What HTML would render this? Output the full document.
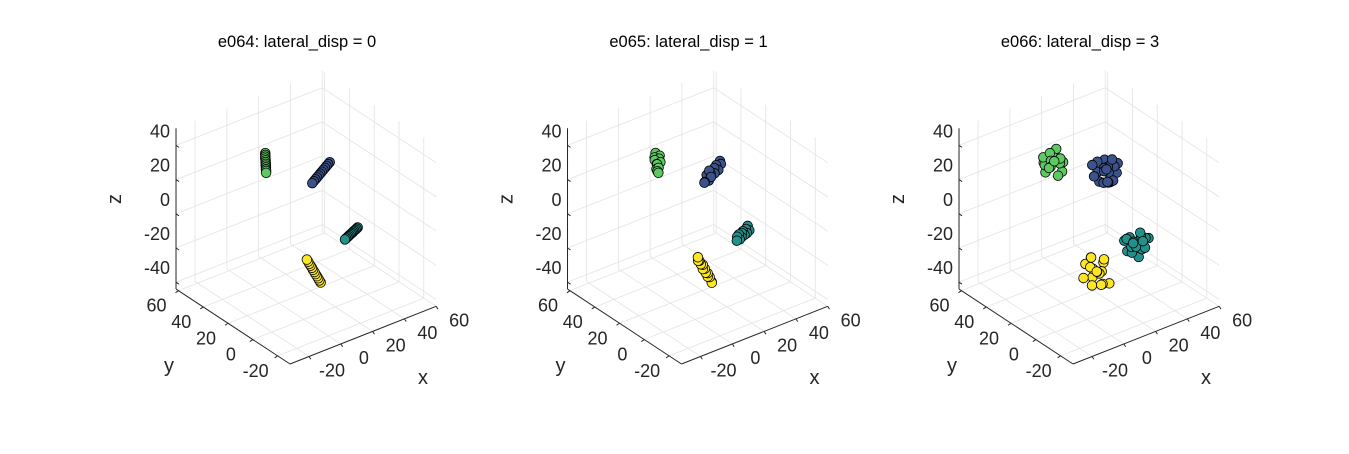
<!DOCTYPE html>
<html><head><meta charset="utf-8"><style>
body{margin:0;background:#fff;}
svg text{font-family:"Liberation Sans",Arial,sans-serif;}
</style></head><body>
<svg id="fig" width="1349" height="449" viewBox="0 0 1349 449" xmlns="http://www.w3.org/2000/svg">
<rect width="1349" height="449" fill="#fff"/>
</svg>
<script>
const titles = ["e064: lateral_disp = 0","e065: lateral_disp = 1","e066: lateral_disp = 3"];
const xTicks = [-20,0,20,40,60];
const yTicks = [-20,0,20,40,60];
const zTicks = [-40,-20,0,20,40];
const clusterColors = ["#3b528b","#5ec962","#21918c","#fde725"];
const p1Blue = [[32,20,26.75],[31,20,26],[30,20,25.25],[29,20,24.5],[28,20,23.75],[27,20,23],[26,20,22.25],[25,20,21.5],[24,20,20.75],[23,20,20],[22,20,19.25],[21,20,18.5]];
const p1Green = [[-7,22,45.4],[-7,22,44.3],[-7,22,43.3],[-7,22,42.2],[-6.8,22,41.1],[-6.8,22,40.1],[-6.7,22,39],[-6.7,22,38],[-6.6,22,36.9],[-6.6,22,35.8],[-6.5,22,34.8],[-6.5,22,33.7]];
const p1Teal = [[26.2,-10,5],[25.5,-10,4.6],[24.8,-10,4.2],[24,-10,3.9],[23.3,-10,3.5],[22.6,-10,3.1],[21.9,-10,2.8],[21.1,-10,2.4],[20.4,-10,2],[19.7,-10,1.6],[18.9,-10,1.3],[18.2,-10,0.9]];
const p1Yellow = [[6,-6,-21.7],[5.6,-5.5,-20.6],[5.3,-4.9,-19.5],[4.9,-4.4,-18.4],[4.5,-3.8,-17.3],[4.2,-3.3,-16.2],[3.8,-2.7,-15.1],[3.5,-2.2,-14],[3.1,-1.6,-12.9],[2.7,-1.1,-11.9],[2.4,-0.5,-10.8],[2,0,-9.7]];
const p2Blue = [[32,21,27],[31,19,26.5],[30,21.5,25],[29,18.5,24],[28,20.5,24.5],[27,19,22.5],[26,21,22],[25,19.5,21],[24,21.5,21.5],[23,18.5,20],[26,22,23],[24,18,22],[22,20.5,18.5],[21,19.5,19]];
const p2Green = [[-7,23,45],[-6,21,44],[-8,22.5,43],[-6,21.5,42],[-7.5,23,41],[-5.5,21,40],[-7,22,39],[-6,23,38],[-8,21,37],[-5.5,22.5,36],[-7,21.5,35],[-6,22,33.5]];
const p2Teal = [[26,-9,5.5],[25.5,-11,4],[24.5,-9.5,4.5],[24,-11,3],[23,-9,3.5],[22.5,-11,2.5],[22,-9.5,3],[21,-10.5,1.5],[20.5,-9,2.5],[19.5,-11,1],[19,-9.5,2],[18,-10.5,0.5]];
const p2Yellow = [[6.5,-5,-22],[5,-7,-21],[6,-4,-19.5],[4,-5,-18],[5.5,-3,-17.5],[3.5,-4,-16],[4.5,-2,-15],[2.5,-3,-14],[4,-1,-13],[2,-2,-11.5],[3,0.5,-11],[1.5,-0.5,-10],[2.5,1,-9]];
const p3Blue = [[32,16,28],[30,24,27],[29,13,25],[33,20,24],[27,26,26],[25,15,29],[31,22,20],[28,17,18],[24,22,23],[22,18,20],[26,12,22],[30,18,30],[23,25,26],[27,21,16],[29,23,23],[25,18,25],[21,21,22],[26,16,19],[28,20,24],[24,14,21]];
const p3Green = [[-9,18,44],[-1,25,42],[-6,27,37],[0,19,39],[-8,23,34],[-3,16,36],[-10,21,40],[-2,22,46],[-5,20,43],[-7,26,41],[1,23,36],[-4,18,33],[-6,22,45],[-3,25,38],[-8,19,39],[-1,20,41],[-5,24,35],[-4,21,40]];
const p3Teal = [[28,-14,0],[19,-6,-2],[26,-5,-6],[21,-15,-8],[30,-9,-3],[17,-11,-5],[24,-13,2],[23,-7,-10],[27,-10,-8],[20,-9,1],[25,-15,-4],[22,-4,-3],[29,-6,-1],[18,-13,-2],[24,-9,-6],[21,-11,-1],[26,-12,-2],[23,-8,-4]];
const p3Yellow = [[8,-8,-22],[0,1,-12],[6,2,-18],[-1,-6,-16],[9,-2,-13],[3,-9,-20],[7,-5,-9],[1,-3,-23],[5,3,-11],[-2,0,-19],[4,-7,-14],[8,0,-20],[2,-1,-8],[6,-4,-24],[0,-5,-12],[5,-2,-17],[3,1,-15],[4,-3,-16]];
const panels = [[p1Blue,p1Green,p1Teal,p1Yellow],[p2Blue,p2Green,p2Teal,p2Yellow],[p3Blue,p3Green,p3Teal,p3Yellow]];
const clusterNames = ["blue","green","teal","yellow"];

const X0=-32,X1=60,Y0=-30,Y1=62,Z0=-44,Z1=50;
const svg=document.getElementById('fig');
const NS='http://www.w3.org/2000/svg';
function mk(tag,attrs,parent){const e=document.createElementNS(NS,tag);for(const k in attrs)e.setAttribute(k,attrs[k]);(parent||svg).appendChild(e);return e;}
panels.forEach((clusters,pi)=>{
  const off=pi*391.5;
  const g=mk('g',{});
  
  
  function P(x,y,z){return [290+off+(x-X0)*1.589-(y-Y0)*1.239, 364-(x-X0)*0.627-(y-Y0)*0.815-(z-Z0)*1.71];}
  function line(a,b,st,w,name){const l=mk('line',{x1:a[0],y1:a[1],x2:b[0],y2:b[1],stroke:st,'stroke-width':w},g);return l;}
  const gc='#e3e3e3';
  xTicks.forEach(v=>line(P(v,Y0,Z0),P(v,Y1,Z0),gc,0.8,'grid-line'));
  yTicks.forEach(v=>line(P(X0,v,Z0),P(X1,v,Z0),gc,0.8,'grid-line'));
  xTicks.forEach(v=>line(P(v,Y1,Z0),P(v,Y1,Z1),gc,0.8,'grid-line'));
  zTicks.forEach(v=>line(P(X0,Y1,v),P(X1,Y1,v),gc,0.8,'grid-line'));
  yTicks.forEach(v=>line(P(X1,v,Z0),P(X1,v,Z1),gc,0.8,'grid-line'));
  zTicks.forEach(v=>line(P(X1,Y0,v),P(X1,Y1,v),gc,0.8,'grid-line'));
  const ac='#262626';
  line(P(X0,Y0,Z0),P(X1,Y0,Z0),ac,1,'x-axis');
  line(P(X0,Y0,Z0),P(X0,Y1,Z0),ac,1,'y-axis');
  line(P(X0,Y1,Z0),P(X0,Y1,Z1),ac,1,'z-axis');
  function txt(x,y,s,size,anchor,name){const t=mk('text',{x:x,y:y,'font-size':size,'text-anchor':anchor,fill:ac,'dominant-baseline':'central'},g);t.textContent=s;return t;}
  xTicks.forEach(v=>{const a=P(v,Y0,Z0);line(a,[a[0]+1.8,a[1]+2.8],ac,1,'x-tick');txt(a[0]+23,a[1]+14,String(v),18,'middle','x-tick-label');});
  yTicks.forEach(v=>{const a=P(X0,v,Z0);line(a,[a[0]-3,a[1]+2],ac,1,'y-tick');txt(a[0]-22,a[1]+15,String(v),18,'middle','y-tick-label');});
  zTicks.forEach(v=>{const a=P(X0,Y1,v);line(a,[a[0]+3,a[1]+2],ac,1,'z-tick');txt(a[0]-6,a[1]-14,String(v),18,'end','z-tick-label');});
  txt(423+off,378,'x',20,'middle','x-axis-title');
  txt(169+off,366,'y',20,'middle','y-axis-title');
  const zt=txt(115+off,199,'z',20,'middle','z-axis-title');
  zt.setAttribute('transform','rotate(-90 '+(115+off)+' 199)');
  const tt=mk('text',{x:297+off,y:42,'font-size':16.5,'text-anchor':'middle',fill:'#000','dominant-baseline':'central'},g);
  tt.textContent=titles[pi];
  
  
  clusters.forEach((pts,ci)=>{
    pts.forEach(p=>{const q=P(p[0],p[1],p[2]);
      const c=mk('circle',{cx:q[0],cy:q[1],r:4.8,fill:clusterColors[ci],stroke:'#000','stroke-width':0.8},g);
      
      
    });
  });
});
</script>
</body></html>
